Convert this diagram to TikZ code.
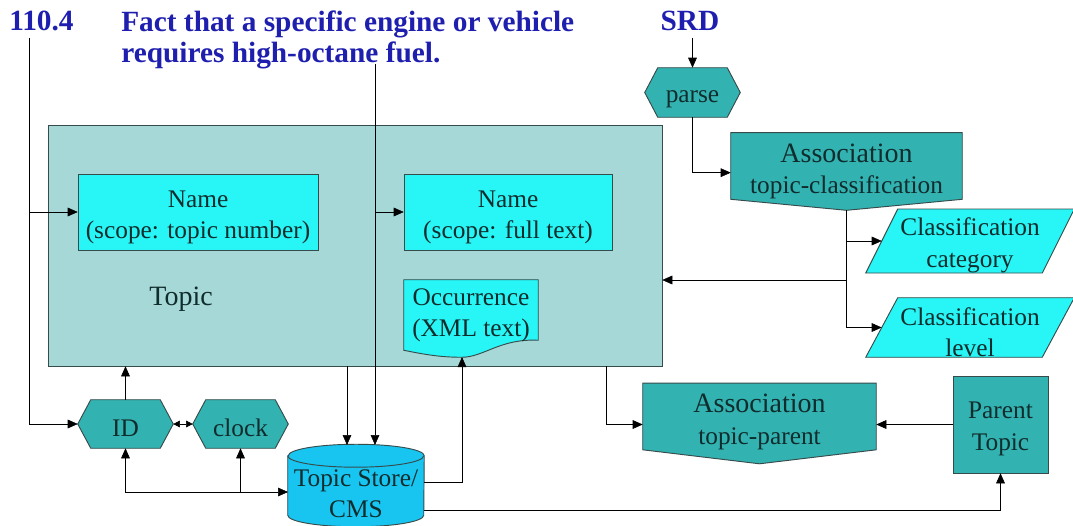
\documentclass[tikz,border=0pt]{standalone}
\usepackage{fontspec}
\setmainfont{Liberation Serif}
\usetikzlibrary{arrows.meta,calc,backgrounds}
\definecolor{topicfill}{RGB}{166,216,216}
\definecolor{tealfill}{RGB}{51,178,178}
\definecolor{cyanfill}{RGB}{40,246,246}
\definecolor{storefill}{RGB}{24,196,240}
\definecolor{edge}{RGB}{55,75,75}
\definecolor{inktext}{RGB}{16,44,44}
\definecolor{titleblue}{RGB}{30,30,175}
\newcommand{\largerfont}{\fontsize{21}{25}\selectfont}
% invisible strut that lowers the first line of a node text
\newcommand{\lift}[1]{\rule{0pt}{#1}}
\begin{document}
\begin{tikzpicture}[x=0.75pt, y=-0.75pt, line width=0.7pt,
  body/.style={font=\fontsize{19}{23.5}\selectfont, align=center, inner sep=0pt, text=inktext,
    execute at begin node={\lift{19pt}}},
  holder/.style 2 args={body, rectangle, draw=none, minimum width=#1, minimum height=#2},
  namebox/.style={body, draw=edge, fill=cyanfill},
  shapeline/.style={draw=edge, line width=0.7pt},
  arr/.style={-{Triangle[length=7.5pt,width=6.5pt]}},
  twoarr/.style={{Triangle[length=7.5pt,width=6.5pt]}-{Triangle[length=7.5pt,width=6.5pt]}},
  smallarr/.style={{Triangle[length=5pt,width=5pt]}-{Triangle[length=5pt,width=5pt]}},
  title/.style={font=\bfseries\fontsize{22}{23.25}\selectfont, text=titleblue, inner sep=0pt}
]
\useasboundingbox (0,0) rectangle (1073,525);

% container box of the topic
\begin{pgfonlayer}{background}
  \node[body, draw=edge, fill=topicfill, minimum width=460.5pt, minimum height=180.75pt] (topic) at (355,245.5) {};
\end{pgfonlayer}

% headings
\node[title, anchor=north west] (num) at (9,11) {110.4};
\node[title, anchor=north west, align=left] (fact) at (121,11) {Fact that a specific engine or vehicle\\requires high-octane fuel.};
\node[title, anchor=north] (srd) at (690,11) {SRD};

% text of the nodes
\node[body, font=\largerfont] (topiclbl) at (181,296) {Topic};
\node[namebox, minimum width=180pt, minimum height=57pt] (n1) at (198,212) {\lift{20.5pt}Name\\(scope: topic number)};
\node[namebox, minimum width=156pt, minimum height=57pt] (n2) at (508,212) {\lift{20.5pt}Name\\(scope: full text)};
\node[holder={100.5pt}{48pt}] (occ) at (471,312) {\lift{17.5pt}Occurrence\\(XML text)};
\node[holder={71.25pt}{36.75pt}] (parse) at (692.5,92.5) {parse};
\node[holder={71.25pt}{36pt}] (id) at (125.5,424) {ID};
\node[holder={71.25pt}{36pt}] (clock) at (240.5,424) {clock};
\node[holder={173.25pt}{46.5pt}] (ac) at (846.5,166) {{\largerfont\lift{22pt}Association}\\topic-classification};
\node[holder={174.75pt}{47.25pt}] (ap) at (759.5,416.5) {{\largerfont\lift{22pt}Association}\\topic-parent};
\node[body, draw=edge, fill=tealfill, minimum width=71.25pt, minimum height=72.75pt] (pt) at (1000.5,424.5) {\lift{19pt}Parent\\Topic};
\node[holder={132pt}{43.5pt}] (cat) at (970,241) {\lift{20pt}Classification\\category};
\node[holder={132pt}{44.25pt}] (lev) at (970,327.5) {\lift{20pt}Classification\\level};
\node[holder={102pt}{54pt}] (cms) at (356,492) {\lift{15.5pt}Topic Store/\\CMS};

% outlines behind the texts
\begin{pgfonlayer}{background}
  % document shape
  \path[shapeline, fill=cyanfill] (occ.north west) -- (occ.north east) -- ($(occ.south east)+(0,-4)$)
    .. controls +(-38,-2) and +(22,0) .. ($(occ.south west)+(58,13)$)
    .. controls +(-22,0) and +(20,4) .. ($(occ.south west)+(0,6)$) -- cycle;
  % hexagons
  \foreach \n in {parse,id,clock}
    \path[shapeline, fill=tealfill] (\n.west) -- ($(\n.north west)+(13,0)$) -- ($(\n.north east)+(-13,0)$)
      -- (\n.east) -- ($(\n.south east)+(-13,0)$) -- ($(\n.south west)+(13,0)$) -- cycle;
  % association shapes
  \coordinate (actip) at ($(ac.south)+(0,11)$);
  \coordinate (aptip) at ($(ap.south)+(0,14)$);
  \path[shapeline, fill=tealfill] (ac.north west) -- (ac.north east) -- (ac.south east) -- (actip) -- (ac.south west) -- cycle;
  \path[shapeline, fill=tealfill] (ap.north west) -- (ap.north east) -- (ap.south east) -- (aptip) -- (ap.south west) -- cycle;
  % data parallelograms
  \foreach \n in {cat,lev}
    \path[shapeline, fill=cyanfill] ($(\n.south west)+(-16,0)$) -- ($(\n.north west)+(16,0)$)
      -- ($(\n.north east)+(16,0)$) -- ($(\n.south east)+(-16,0)$) -- cycle;
  % store cylinder
  \path[shapeline, fill=storefill] (cms.north west) -- ($(cms.south west)+(0,-13)$)
    arc[start angle=180, end angle=360, x radius=51pt, y radius=8.6pt]
    -- (cms.north east)
    arc[start angle=0, end angle=180, x radius=51pt, y radius=8.6pt] -- cycle;
  \draw[shapeline] (cms.north west) arc[start angle=180, end angle=360, x radius=51pt, y radius=8.6pt];
\end{pgfonlayer}

% ports
\coordinate (s110) at (29,38);
\coordinate (sfuel) at (375,64);
\coordinate (cmsT1) at (347,445);
\coordinate (cmsT2) at (375,445);
\coordinate (cmsL) at (288,492);
\coordinate (cmsR1) at (424,482);
\coordinate (cmsR2) at (424,510);
\coordinate (occB) at (462,357);
\coordinate (tout) at (606,366);
\coordinate (tin) at (actip |- 0,280);

% connectors
\draw[arr] (s110) |- (id.west);
\draw[arr] (s110 |- n1.west) -- (n1.west);
\draw[arr] (sfuel) -- (cmsT2);
\draw[arr] (sfuel |- n2.west) -- (n2.west);
\draw[arr] (topic.south -| cmsT1) -- (cmsT1);
\draw[arr] (id.north) -- (id.north |- topic.south);
\draw[twoarr] (id.south) |- (cmsL);
\draw[arr] (clock.south |- cmsL) -- (clock.south);
\draw[smallarr] (id.east) -- (clock.west);
\draw[arr] (cmsR1) -| (occB);
\draw[arr] (cmsR2) -| (pt.south);
\draw[arr] (tout) |- (ap.west |- pt.west);
\draw[arr] (pt.west) -- (pt.west -| ap.east);
\draw[arr] ([yshift=-5pt]parse.north |- srd.south) -- (parse.north);
\draw[arr] (parse.south) |- ([yshift=-5pt]ac.west);
\draw[arr] (actip |- cat.west) -- (cat.west);
\draw[arr] (actip) |- (lev.west);
\draw[arr] (tin) -- (tin -| topic.east);
\end{tikzpicture}
\end{document}
